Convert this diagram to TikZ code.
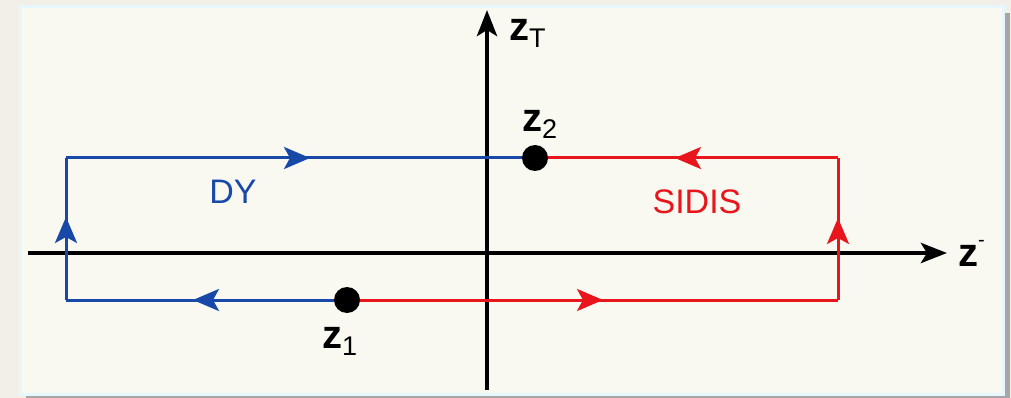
\documentclass[tikz,border=0pt]{standalone}
\usepackage{fontspec}
\setmainfont{Liberation Sans}
\usetikzlibrary{arrows.meta,decorations.markings}
\definecolor{dyblue}{RGB}{24,72,168}
\definecolor{sidisred}{RGB}{232,22,28}
\definecolor{panelbg}{RGB}{249,249,242}
\definecolor{outerbg}{RGB}{242,239,233}
\newcommand{\zsub}[1]{z\raisebox{-7pt}{\mdseries\fontsize{27}{27}\selectfont #1}}

\begin{document}
\begin{tikzpicture}[x=1pt, y=-1pt,
          axis/.style={line width=4.5pt, -{Stealth[length=26pt,width=20pt,inset=6pt]}},
          contour/.style={line width=3pt, postaction={decorate}},
          flow/.style={decoration={markings,
              mark=at position #1 with {\arrow{Stealth[length=26pt,width=22pt,inset=6pt]}}}},
          vertex/.style={circle, fill=black, inner sep=0pt, minimum size=26pt},
          lbl/.style={font=\fontsize{40}{42}\selectfont\bfseries, inner sep=0pt, anchor=base west},
          proc/.style={font=\fontsize{34}{36}\selectfont, inner sep=0pt}]
          % frame
          \fill[outerbg] (0,0) rectangle (1011,398);
          \fill[black!35] (26,13) rectangle (1010,398);
          \fill[panelbg, draw=white!90!cyan, line width=3pt] (20,7) rectangle (1003,394);
          \useasboundingbox (0,0) rectangle (1011,398);
          % points
          \coordinate (z1) at (347,300);
          \coordinate (z2) at (535,158);
          \coordinate (bl) at (66,300);
          \coordinate (tl) at (66,158);
          \coordinate (br) at (838,300);
          \coordinate (tr) at (838,158);
          \coordinate (xs) at (28,253);
          \coordinate (xe) at (947,253);
          \coordinate (ys) at (487,390);
          \coordinate (ye) at (487,10);
          % axes
          \draw[axis] (xs) -- (xe);
          \draw[axis] (ys) -- (ye);
          % contours
          \draw[contour, dyblue, flow=154pt] (z1) -- (bl);
          \draw[contour, dyblue, flow=83pt] (bl) -- (tl);
          \draw[contour, dyblue, flow=244pt] (tl) -- (z2);
          \draw[contour, sidisred, flow=256pt] (z1) -- (br);
          \draw[contour, sidisred, flow=82pt] (br) -- (tr);
          \draw[contour, sidisred, flow=163pt] (tr) -- (z2);
          \node[vertex] (d1) at (z1) {};
          \node[vertex] (d2) at (z2) {};
          % labels
          \node[lbl] (l1) at (322,348) {\zsub{1}};
          \node[lbl] (l2) at (522,132) {\zsub{2}};
          \node[lbl] (lt) at (509,41) {\zsub{T}};
          \node[lbl] (lm) at (958,266) {z\raisebox{20pt}{\mdseries\fontsize{20}{20}\selectfont -}};
          \node[proc, dyblue] (dy) at (233,192) {DY};
          \node[proc, sidisred] (sidis) at (697,202) {SIDIS};
        \end{tikzpicture}
\end{document}
